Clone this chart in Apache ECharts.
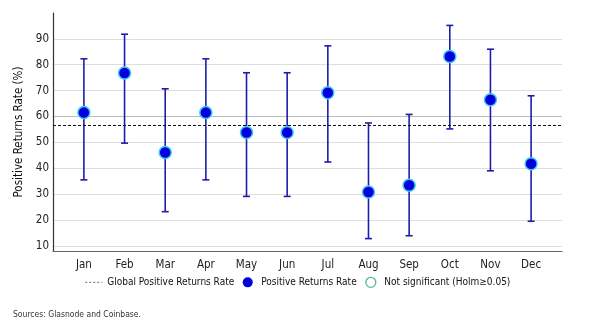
<!DOCTYPE html>
<html>
<head>
<meta charset="utf-8">
<script src="https://cdn.jsdelivr.net/npm/echarts@6/dist/echarts.min.js"></script>
<style>
html,body{margin:0;padding:0;background:#fff;}
#c{width:595px;height:330px;}
</style>
</head>
<body>
<div id="c"></div>
<script>
// ---- data ----
var months = ['Jan','Feb','Mar','Apr','May','Jun','Jul','Aug','Sep','Oct','Nov','Dec'];
var rate   = [61.5, 76.8, 46.1, 61.5, 53.8, 53.8, 69.2, 30.8, 33.4, 83.2, 66.5, 41.7];
var lower  = [35.5, 49.7, 23.2, 35.5, 29.1, 29.1, 42.4, 12.8, 13.9, 55.2, 39.0, 19.5];
var upper  = [82.3, 91.8, 70.7, 82.3, 76.9, 76.9, 87.3, 57.5, 60.8, 95.2, 86.0, 68.0];
var globalRate = 56.5;
var yTicks = [10, 20, 30, 40, 50, 60, 70, 80, 90];
var notSignificant = []; // none of the months

var FONT = "'Liberation Sans Narrow', 'Arial Narrow', 'DejaVu Sans Condensed', sans-serif";

var pointData = months.map(function(m, i){ return [i, rate[i]]; });
var barData = months.map(function(m, i){ return [i, lower[i], upper[i]]; });

// split line colors, one per tick (step 2 from 8 to 100)
var splitColors = [];
for (var v = 8; v <= 100; v += 2) {
  if (yTicks.indexOf(v) >= 0) splitColors.push(v === 60 ? '#bdbdbd' : '#dedede');
  else splitColors.push('rgba(0,0,0,0)');
}

var chart = echarts.init(document.getElementById('c'), null, {renderer: 'canvas'});
chart.setOption({
  animation: false,
  textStyle: {fontFamily: FONT},
  grid: {left: 53, right: 33, top: 13, bottom: 79},
  xAxis: {
    type: 'value',
    min: -0.76, max: 11.76,
    axisLine: {show: true, onZero: false, lineStyle: {color: '#666', width: 1.2}},
    axisTick: {show: false},
    splitLine: {show: false},
    axisLabel: {
      customValues: months.map(function(m, i){ return i; }),
      formatter: function(v){ return months[Math.round(v)] || ''; },
      color: '#222', fontSize: 11.5, margin: 8, fontFamily: FONT
    }
  },
  yAxis: {
    type: 'value',
    min: 8, max: 100, interval: 2,
    name: 'Positive Returns Rate (%)',
    nameLocation: 'middle',
    nameGap: 22,
    nameTextStyle: {fontSize: 11.5, color: '#111', fontFamily: FONT},
    axisLine: {show: true, onZero: false, lineStyle: {color: '#333', width: 1.2}},
    axisTick: {show: false},
    axisLabel: {
      formatter: function(v){ return yTicks.indexOf(v) >= 0 ? String(v) : ''; },
      color: '#222', fontSize: 11.5, margin: 4, fontFamily: FONT
    },
    splitLine: {show: true, showMinLine: true, showMaxLine: true, lineStyle: {color: splitColors, width: 1}}
  },
  legend: {
    bottom: 37,
    left: 'center',
    itemGap: 8.5,
    itemWidth: 17,
    itemHeight: 10,
    textStyle: {fontSize: 10, color: '#111', fontFamily: FONT},
    data: [
      {name: 'Global Positive Returns Rate', itemStyle: {color: 'rgba(0,0,0,0)', borderWidth: 0}, lineStyle: {color: '#888', type: [2, 2], width: 1.2}},
      {name: 'Positive Returns Rate', icon: 'circle', itemStyle: {color: '#0000dd', borderWidth: 0}},
      {name: 'Not significant (Holm\u22650.05)', icon: 'circle', itemStyle: {color: '#fff', borderColor: '#2aa67c', borderWidth: 1.3}}
    ]
  },
  graphic: [{
    type: 'text', left: 13, top: 310,
    style: {text: 'Sources: Glasnode and Coinbase.', fontSize: 8.5, fill: '#333', fontFamily: FONT}
  }],
  series: [
    {
      name: 'Global Positive Returns Rate',
      type: 'line',
      data: [],
      symbol: 'none',
      lineStyle: {color: '#888', type: [2, 2], width: 1.2},
      markLine: {
        silent: true, symbol: 'none',
        label: {show: false},
        lineStyle: {color: '#111', type: [3, 2], width: 1},
        data: [{yAxis: globalRate}]
      }
    },
    {
      name: 'errorbars',
      type: 'custom',
      data: barData,
      z: 2,
      renderItem: function(params, api){
        var x = api.value(0), lo = api.value(1), hi = api.value(2);
        var pHi = api.coord([x, hi]), pLo = api.coord([x, lo]);
        var cap = 3.5;
        var st = {stroke: '#1d1daa', lineWidth: 1.6};
        return {type: 'group', children: [
          {type: 'line', shape: {x1: pHi[0], y1: pHi[1], x2: pLo[0], y2: pLo[1]}, style: st},
          {type: 'line', shape: {x1: pHi[0]-cap, y1: pHi[1], x2: pHi[0]+cap, y2: pHi[1]}, style: st},
          {type: 'line', shape: {x1: pLo[0]-cap, y1: pLo[1], x2: pLo[0]+cap, y2: pLo[1]}, style: st}
        ]};
      }
    },
    {
      name: 'Positive Returns Rate',
      type: 'scatter',
      data: pointData,
      symbol: 'circle',
      symbolSize: 12,
      z: 3,
      itemStyle: {color: '#0000dd', borderColor: '#3fc6f0', borderWidth: 1.5, opacity: 1}
    },
    {
      name: 'Not significant (Holm\u22650.05)',
      type: 'scatter',
      data: notSignificant,
      symbol: 'circle',
      symbolSize: 12,
      itemStyle: {color: '#fff', borderColor: '#2aa67c', borderWidth: 1.5}
    }
  ]
});
</script>
</body>
</html>
